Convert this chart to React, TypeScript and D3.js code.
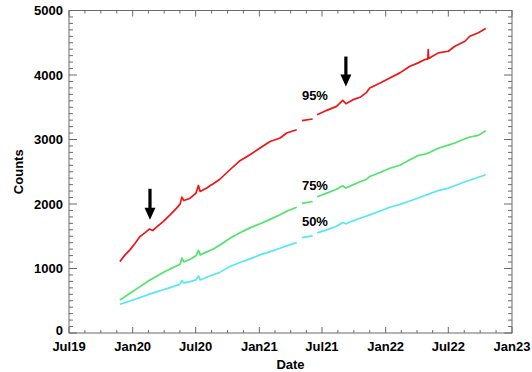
import React from 'react';
import * as d3 from 'd3';

// Sample dates shared by the three percentile series (null = no data)
const dates = [
  '2019-11-25', '2019-12-10', '2019-12-24', '2020-01-08', '2020-01-22', '2020-02-06',
  '2020-02-18', '2020-02-28', '2020-03-10', '2020-03-29', '2020-04-18', '2020-05-07',
  '2020-05-17', '2020-05-22', '2020-05-28', '2020-06-15', '2020-07-02', '2020-07-09',
  '2020-07-14', '2020-08-02', '2020-08-11', '2020-08-21', '2020-09-07', '2020-10-08',
  '2020-11-06', '2020-12-05', '2021-01-03', '2021-02-01', '2021-03-02', '2021-03-21',
  '2021-04-19', '2021-04-26', '2021-05-04', '2021-06-04', '2021-06-10', '2021-06-17',
  '2021-07-15', '2021-08-12', '2021-08-30', '2021-09-08', '2021-09-29', '2021-10-19',
  '2021-11-07', '2021-11-16', '2021-12-16', '2022-01-13', '2022-02-11', '2022-03-12',
  '2022-04-05', '2022-04-24', '2022-05-03', '2022-05-04', '2022-05-05', '2022-05-09',
  '2022-06-02', '2022-07-01', '2022-07-20', '2022-08-18', '2022-09-01', '2022-09-26',
  '2022-10-17',
];

const p95 = [
  1107, 1211, 1289, 1393, 1495, 1557, 1610, 1589, 1641, 1728, 1832, 1936,
  1998, 2107, 2054, 2090, 2169, 2287, 2194, 2247, 2283, 2314, 2376, 2531,
  2671, 2764, 2868, 2970, 3023, 3101, 3152, null, 3292, 3318, null, 3385,
  3452, 3514, 3607, 3556, 3618, 3654, 3731, 3800, 3877, 3955, 4033, 4135,
  4188, 4239, 4250, 4394, 4258, 4266, 4343, 4368, 4446, 4523, 4601, 4654,
  4720,
];

const p75 = [
  512, 564, 616, 668, 719, 772, 815, 846, 880, 939, 994, 1040,
  1067, 1160, 1102, 1144, 1196, 1281, 1211, 1258, 1278, 1304, 1356, 1470,
  1553, 1630, 1693, 1762, 1832, 1887, 1949, null, 2011, 2039, null, 2112,
  2169, 2228, 2283, 2247, 2298, 2345, 2384, 2427, 2488, 2554, 2600, 2686,
  2752, 2772, 2788, 2790, 2792, 2803, 2865, 2912, 2946, 3012, 3039, 3064,
  3137,
];

const p50 = [
  446, 471, 497, 523, 548, 578, 602, 618, 637, 671, 703, 738,
  756, 812, 776, 797, 823, 885, 823, 865, 885, 904, 936, 1030,
  1092, 1149, 1211, 1262, 1315, 1351, 1402, null, 1480, 1506, null, 1553,
  1599, 1654, 1713, 1693, 1739, 1778, 1814, 1832, 1891, 1949, 1995, 2047,
  2093, 2132, 2149, 2151, 2153, 2162, 2208, 2247, 2283, 2345, 2368, 2415,
  2453,
];

const seriesNames = ['95%', '75%', '50%'];
const seriesColors = ['#f01414', '#4fe56a', '#55e8f2'];
const seriesValues = [p95, p75, p50];

// Percentile annotations: text anchor date and count for each series label
const labelDate = '2021-05-04';
const labelCounts = [3618, 2218, 1663];

// Event arrows: date, tail count, tip count
const arrowDates = ['2020-02-20', '2021-09-08'];
const arrowTails = [2236, 4286];
const arrowTips = [1755, 3820];

const xDomain = ['2019-07-01', '2023-01-01'];
const yTicks = [0, 1000, 2000, 3000, 4000, 5000];

const W = 532;
const H = 372;
const M = { left: 69, right: 512, top: 10.5, bottom: 333 };
const FONT = '"Liberation Sans", Arial, Helvetica, sans-serif';
const AXIS = '#6a6a6a';

export default function App() {
  const parse = d3.utcParse('%Y-%m-%d');
  const x = d3
    .scaleUtc()
    .domain(xDomain.map((s) => parse(s) as Date))
    .range([M.left, M.right]);
  const y = d3.scaleLinear().domain([0, 5000]).range([M.bottom, M.top]);

  const parsedDates = dates.map((s) => parse(s) as Date);

  const line = d3
    .line<[Date, number | null]>()
    .defined((d) => d[1] !== null)
    .x((d) => x(d[0]))
    .y((d) => y(d[1] as number));

  // Major ticks every six months, three minor ticks between each pair
  const majors = d3.utcMonth.every(6)!.range(x.domain()[0], new Date(x.domain()[1].getTime() + 1));
  const minors: Date[] = [];
  for (let i = 0; i < majors.length - 1; i++) {
    const a = majors[i].getTime();
    const b = majors[i + 1].getTime();
    for (let k = 1; k < 4; k++) minors.push(new Date(a + ((b - a) * k) / 4));
  }
  const fmt = d3.utcFormat('%b%y');
  const yMinor = d3.range(0, 5001, 100).filter((v) => v % 1000 !== 0);

  const tickStyle = { stroke: AXIS, strokeWidth: 1 };

  return (
    <svg
      width={W}
      height={H}
      style={{ position: 'absolute', left: 0, top: 0, background: '#fff' }}
      fontFamily={FONT}
    >
      <rect x={0} y={0} width={W} height={H} fill="#fff" />

      {/* series */}
      {seriesValues.map((vals, i) => (
        <path
          key={seriesNames[i]}
          d={line(parsedDates.map((d, j) => [d, vals[j]]) as [Date, number | null][]) || ''}
          fill="none"
          stroke={seriesColors[i]}
          strokeWidth={1.7}
          strokeLinejoin="round"
        />
      ))}

      {/* frame */}
      <rect
        x={M.left}
        y={M.top}
        width={M.right - M.left}
        height={M.bottom - M.top}
        fill="none"
        stroke={AXIS}
        strokeWidth={1}
      />

      {/* x ticks, bottom and top */}
      {majors.map((d) => (
        <g key={'xm' + d.getTime()}>
          <line x1={x(d)} x2={x(d)} y1={M.bottom} y2={M.bottom - 6} {...tickStyle} />
          <line x1={x(d)} x2={x(d)} y1={M.top} y2={M.top + 6} {...tickStyle} />
          <text
            x={x(d)}
            y={351}
            textAnchor="middle"
            fontSize={13}
            fontWeight="bold"
            fill="#000"
          >
            {fmt(d)}
          </text>
        </g>
      ))}
      {minors.map((d) => (
        <g key={'xn' + d.getTime()}>
          <line x1={x(d)} x2={x(d)} y1={M.bottom} y2={M.bottom - 3} {...tickStyle} />
          <line x1={x(d)} x2={x(d)} y1={M.top} y2={M.top + 3} {...tickStyle} />
        </g>
      ))}

      {/* y ticks, left and right; the bottom label sits a little higher to clear the date labels */}
      {yTicks.map((v) => (
        <g key={'ym' + v}>
          <line x1={M.left} x2={M.left + 8} y1={y(v)} y2={y(v)} {...tickStyle} />
          <line x1={M.right} x2={M.right - 8} y1={y(v)} y2={y(v)} {...tickStyle} />
          <text
            x={63}
            y={y(v) - (v === 0 ? 2.5 : 0)}
            dy="0.36em"
            textAnchor="end"
            fontSize={13}
            fontWeight="bold"
            fill="#000"
          >
            {v}
          </text>
        </g>
      ))}
      {yMinor.map((v) => (
        <g key={'yn' + v}>
          <line x1={M.left} x2={M.left + 4} y1={y(v)} y2={y(v)} {...tickStyle} />
          <line x1={M.right} x2={M.right - 4} y1={y(v)} y2={y(v)} {...tickStyle} />
        </g>
      ))}

      {/* axis titles */}
      <text x={(M.left + M.right) / 2} y={369} textAnchor="middle" fontSize={13} fontWeight="bold">
        Date
      </text>
      <text
        transform={`translate(23,${(M.top + M.bottom) / 2}) rotate(-90)`}
        textAnchor="middle"
        fontSize={13}
        fontWeight="bold"
      >
        Counts
      </text>

      {/* percentile labels */}
      {seriesNames.map((name, i) => (
        <text
          key={'lab' + name}
          x={x(parse(labelDate) as Date)}
          y={y(labelCounts[i])}
          fontSize={13}
          fontWeight="bold"
          fill="#000"
        >
          {name}
        </text>
      ))}

      {/* event arrows */}
      {arrowDates.map((ds, i) => {
        const ax = x(parse(ds) as Date);
        const yt = y(arrowTails[i]);
        const yp = y(arrowTips[i]);
        const headLen = 12;
        return (
          <g key={'arr' + ds}>
            <rect x={ax - 1.6} y={yt} width={3.2} height={yp - yt - headLen + 1} fill="#000" />
            <path
              d={`M${ax - 5.5},${yp - headLen} L${ax + 5.5},${yp - headLen} L${ax},${yp} Z`}
              fill="#000"
            />
          </g>
        );
      })}
    </svg>
  );
}
